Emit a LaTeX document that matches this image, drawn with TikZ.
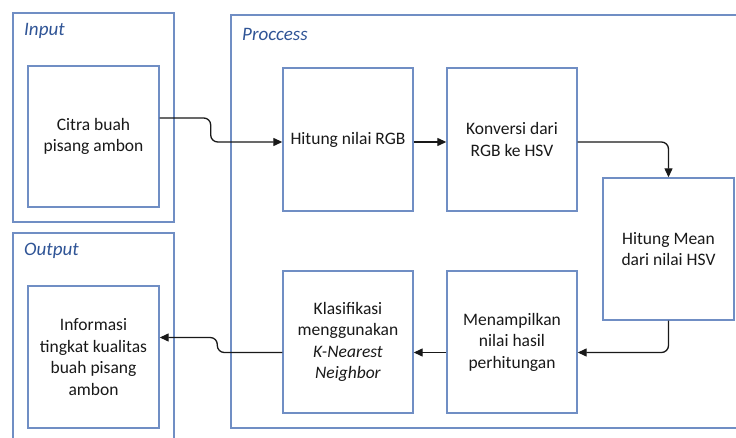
\documentclass[tikz,border=0pt]{standalone}
\usepackage{fontspec}
\setmainfont{Carlito}
\usetikzlibrary{arrows.meta,calc}
\definecolor{boxblue}{RGB}{112,142,196}
\definecolor{lblblue}{RGB}{47,84,150}
\definecolor{ink}{RGB}{25,25,25}
\begin{document}
\begin{tikzpicture}[x=1pt,y=-1pt,
  frame/.style={draw=boxblue,line width=1.4pt,fill=white,inner sep=0pt},
  stepbox/.style={frame,minimum width=#1,align=center,text=ink,
    font=\fontsize{17.5}{21.5}\selectfont},
  grouplbl/.style={anchor=west,inner sep=0pt,text=lblblue,
    font=\fontsize{19}{22}\selectfont\itshape},
  conn/.style={draw=ink,line width=1.3pt,rounded corners=7pt,
    -{Triangle[length=9pt,width=8pt]}}]
\useasboundingbox (0,0) rectangle (736,438);
\clip (0,0) rectangle (736,438);
\fill[white] (0,0) rectangle (736,438);
% group frames
\node[frame,minimum width=161pt,minimum height=209pt] (inputgrp) at (93.5,117.5) {};
\node[frame,minimum width=161pt,minimum height=215pt] (outputgrp) at (93.5,340.5) {};
\node[frame,minimum width=530pt,minimum height=413pt] (procgrp) at (496,221.5) {};
\node[grouplbl] (inlbl) at (24,31) {Input};
\node[grouplbl] (outlbl) at (24,251) {Output};
\node[grouplbl] (proclbl) at (242,34) {Proccess};
% step boxes
\node[stepbox=131pt,minimum height=141pt] (citra) at (93.5,136.5) {Citra buah\\pisang ambon};
\node[stepbox=131pt,minimum height=142pt] (info) at (93.5,357) {Informasi\\tingkat kualitas\\buah pisang\\ambon};
\node[stepbox=130pt,minimum height=143pt] (rgb) at (348,139.5) {Hitung nilai RGB};
\node[stepbox=130pt,minimum height=143pt] (konv) at (512,139.5) {Konversi dari\\RGB ke HSV};
\node[stepbox=131pt,minimum height=142pt] (mean) at (668.5,249) {Hitung Mean\\dari nilai HSV};
\node[stepbox=130pt,minimum height=142pt] (menamp) at (512,342) {Menampilkan\\nilai hasil\\perhitungan};
\node[stepbox=130pt,minimum height=142pt] (klas) at (348,342) {Klasifikasi\\menggunakan\\\textit{K-Nearest}\\\textit{Neighbor}};
% connectors
\draw[conn] ([yshift=18.5pt]citra.east) -- ++(51,0) -- ++(0,24) -- ([yshift=-2.5pt]rgb.west);
\draw[conn] ([yshift=-2.5pt]rgb.east) -- ([yshift=-2.5pt]konv.west);
\draw[conn] ([yshift=-2.5pt]konv.east) -| (mean.north);
\draw[conn] (mean.south) |- ([yshift=-10.5pt]menamp.east);
\draw[conn] ([yshift=-10.5pt]menamp.west) -- ([yshift=-10.5pt]klas.east);
\draw[conn] ([yshift=-10.5pt]klas.west) -- ++(-65,0) -- ++(0,-15) -- ([yshift=19.5pt]info.east);
\end{tikzpicture}
\end{document}
